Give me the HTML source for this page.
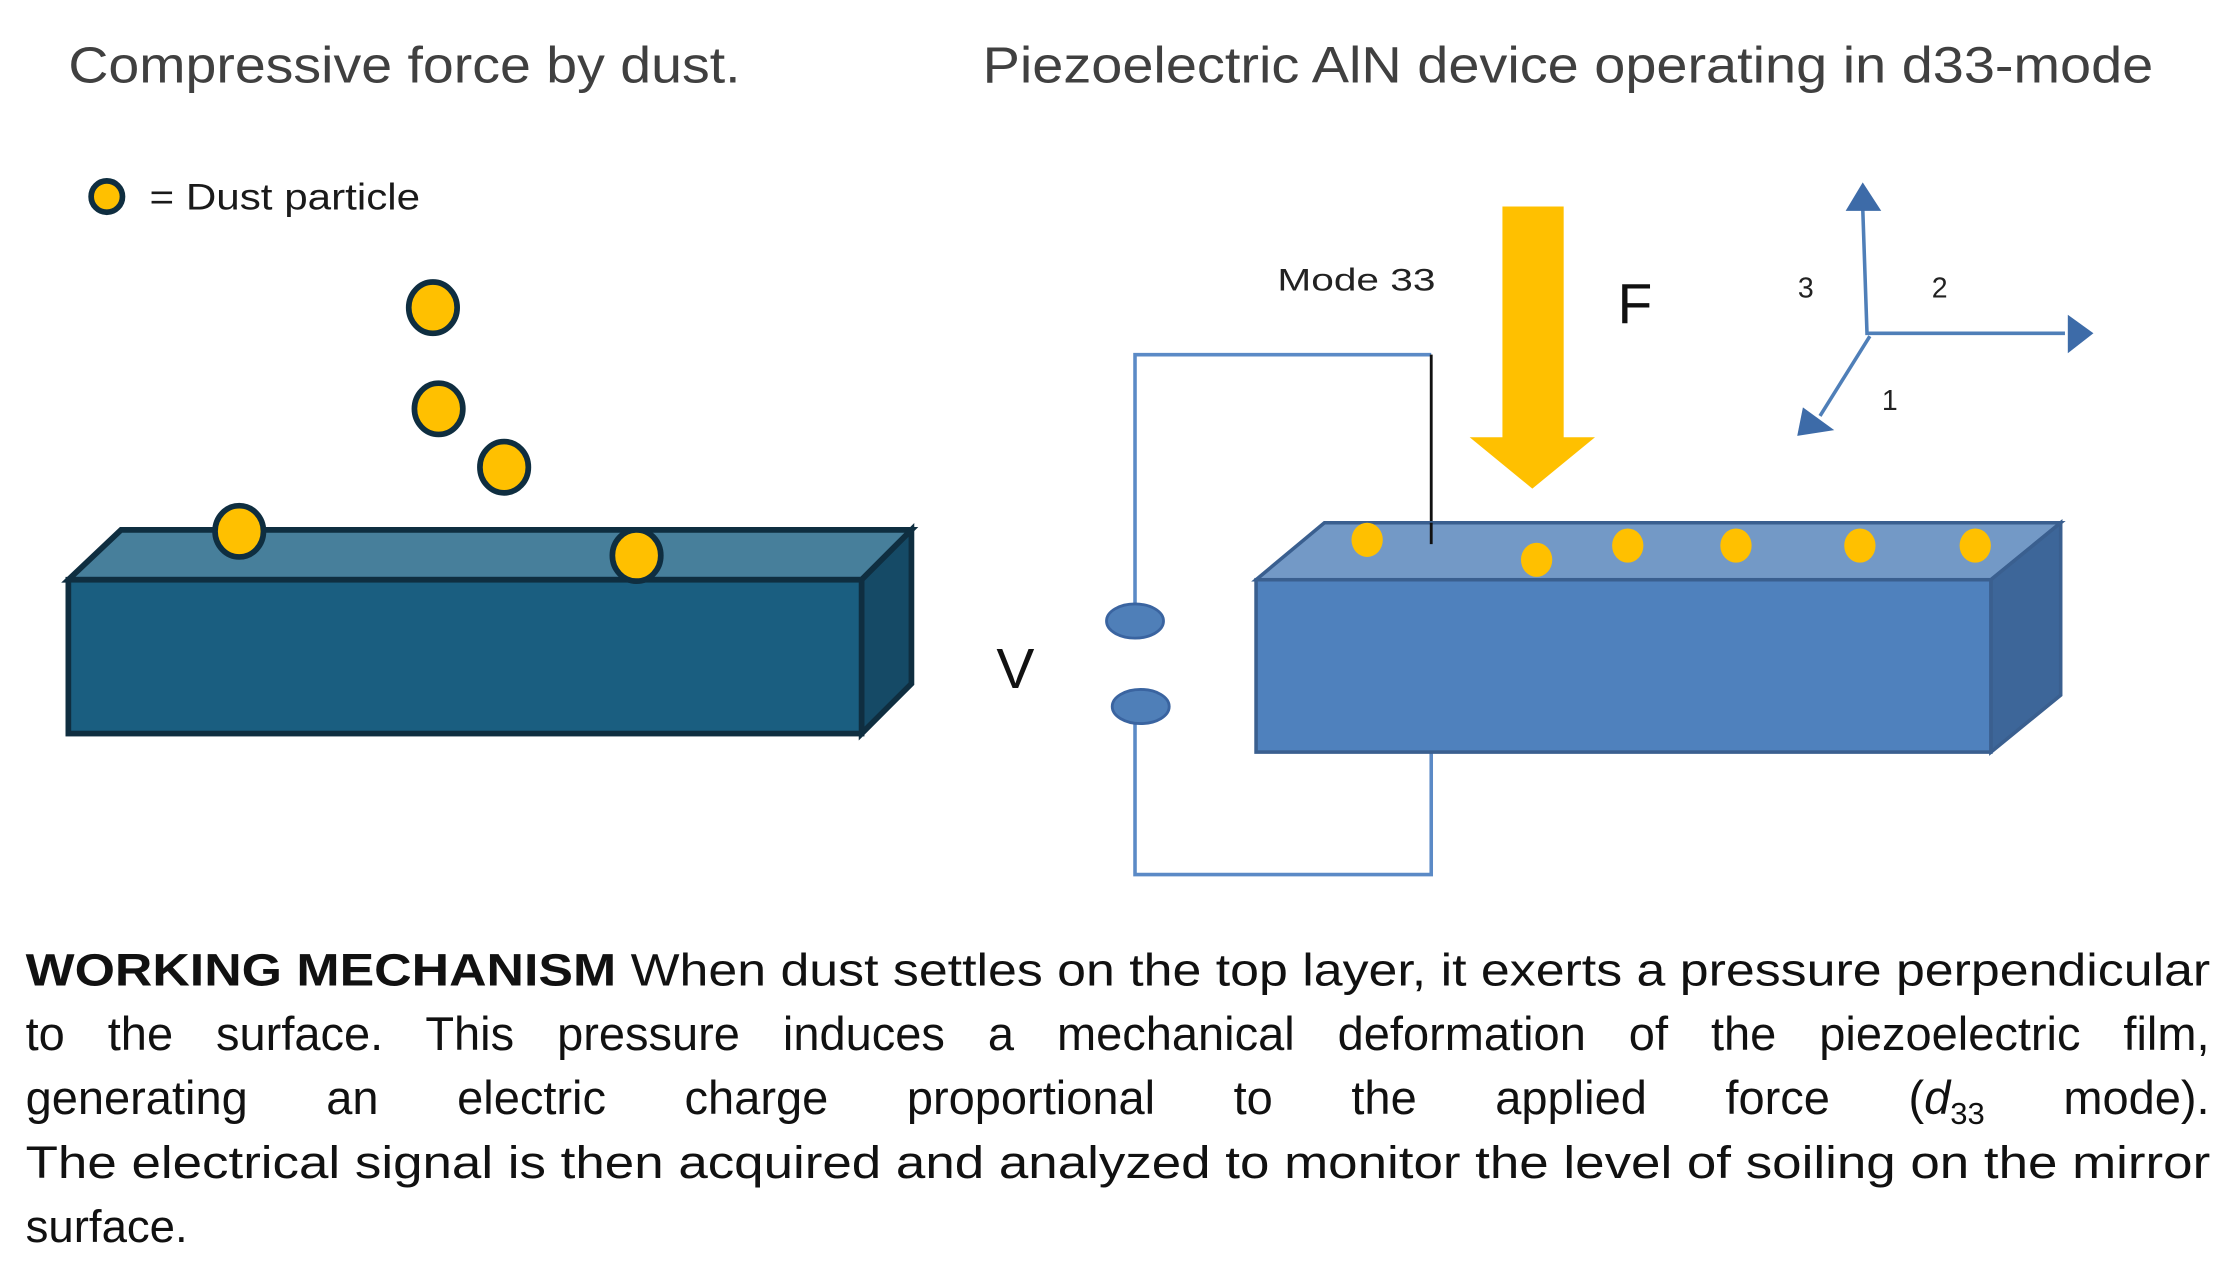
<!DOCTYPE html>
<html><head><meta charset="utf-8"><style>
html,body{margin:0;padding:0;background:#fff;width:2233px;height:1272px;overflow:hidden;position:relative}
svg{display:block;position:absolute;left:0;top:0}
text{font-family:"Liberation Sans",sans-serif}
.ln{position:absolute;left:25.6px;width:2184px;font-family:"Liberation Sans",sans-serif;font-size:47px;line-height:64px;color:#111;text-align:justify;text-align-last:justify;white-space:normal}
sub{font-size:31px;line-height:0;vertical-align:-10px}
</style></head><body>
<svg width="2233" height="1272" viewBox="0 0 1568 893" preserveAspectRatio="none" xmlns="http://www.w3.org/2000/svg">
<rect width="1568" height="893" fill="#fff"/>
<text x="48" y="58" font-size="36" fill="#404040" textLength="472" lengthAdjust="spacingAndGlyphs">Compressive force by dust.</text>
<text x="690" y="58" font-size="36" fill="#404040" textLength="822" lengthAdjust="spacingAndGlyphs">Piezoelectric AlN device operating in d33-mode</text>
<circle cx="75" cy="138" r="11" fill="#ffc000" stroke="#0f2e40" stroke-width="4"/>
<text x="105" y="147" font-size="26" fill="#1a1a1a" textLength="190" lengthAdjust="spacingAndGlyphs">= Dust particle</text>
<g stroke="#0f2e40" stroke-width="4" stroke-linejoin="miter">
<polygon points="48,407 85,372 640,372 605,407" fill="#477f9b"/>
<polygon points="605,407 640,372 640,480 605,515" fill="#154a66"/>
<rect x="48" y="407" width="557" height="108" fill="#1a5e80"/>
</g>
<g fill="#ffc000" stroke="#0f2e40" stroke-width="4">
<ellipse cx="304" cy="216" rx="17" ry="18"/>
<ellipse cx="308" cy="287" rx="17" ry="18"/>
<ellipse cx="354" cy="328" rx="17" ry="18"/>
<ellipse cx="168" cy="373" rx="17" ry="18"/>
<ellipse cx="447" cy="390" rx="17" ry="18"/>
</g>
<text x="713" y="483" font-size="40" fill="#111" text-anchor="middle">V</text>
<g fill="none" stroke="#5b8ac6" stroke-width="2.5">
<polyline points="797,428 797,249 1005,249"/>
<polyline points="797,507 797,614 1005,614 1005,528"/>
</g>
<line x1="1005" y1="249" x2="1005" y2="382" stroke="#111" stroke-width="2"/>
<ellipse cx="797" cy="436" rx="20" ry="12" fill="#4f7fb8" stroke="#3a64a0" stroke-width="2"/>
<ellipse cx="801" cy="496" rx="20" ry="12" fill="#4f7fb8" stroke="#3a64a0" stroke-width="2"/>
<g stroke="#3a5f8f" stroke-width="2.5">
<polygon points="882,407 930,367 1447,367 1398,407" fill="#7399c6"/>
<polygon points="1398,407 1447,367 1447,488 1398,528" fill="#3d6699"/>
<rect x="882" y="407" width="516" height="121" fill="#4f81bd"/>
</g>
<line x1="1005" y1="367" x2="1005" y2="382" stroke="#111" stroke-width="2"/>
<g fill="#ffc000">
<ellipse cx="960" cy="379" rx="11" ry="12"/>
<ellipse cx="1079" cy="393" rx="11" ry="12"/>
<ellipse cx="1143" cy="383" rx="11" ry="12"/>
<ellipse cx="1219" cy="383" rx="11" ry="12"/>
<ellipse cx="1306" cy="383" rx="11" ry="12"/>
<ellipse cx="1387" cy="383" rx="11" ry="12"/>
</g>
<polygon points="1055,145 1098,145 1098,307 1120,307 1076,343 1032,307 1055,307" fill="#ffc000"/>
<text x="1148" y="227" font-size="40" fill="#111" text-anchor="middle">F</text>
<text x="897" y="204" font-size="22" fill="#222" textLength="111" lengthAdjust="spacingAndGlyphs">Mode 33</text>
<g stroke="#4f7fb8" stroke-width="2.5" fill="none">
<polyline points="1308,146 1311,234 1450,234"/>
<line x1="1313" y1="236" x2="1278" y2="292"/>
</g>
<g fill="#3d6ba8">
<polygon points="1308,128 1296,148 1321,148"/>
<polygon points="1470,234 1452,221 1452,248"/>
<polygon points="1262,306 1266,286 1288,302"/>
</g>
<text x="1268" y="209" font-size="20" fill="#222" text-anchor="middle">3</text>
<text x="1362" y="209" font-size="20" fill="#222" text-anchor="middle">2</text>
<text x="1327" y="288" font-size="20" fill="#222" text-anchor="middle">1</text>
<g font-size="32" fill="#111">
<text x="18" y="692" textLength="1534" lengthAdjust="spacingAndGlyphs"><tspan font-weight="bold">WORKING MECHANISM</tspan>  When dust settles on the top layer, it exerts a pressure perpendicular</text>
<text x="18" y="827" textLength="1534" lengthAdjust="spacingAndGlyphs">The electrical signal is then acquired and analyzed to monitor the level of soiling on the mirror</text>
<text x="18" y="872">surface.</text>
</g>
</svg>
<div class="ln" style="top:1002px">to the surface. This pressure induces a mechanical deformation of the piezoelectric film,</div>
<div class="ln" style="top:1066px">generating an electric charge proportional to the applied force (<i>d</i><sub>33</sub> mode).</div>
</body></html>
